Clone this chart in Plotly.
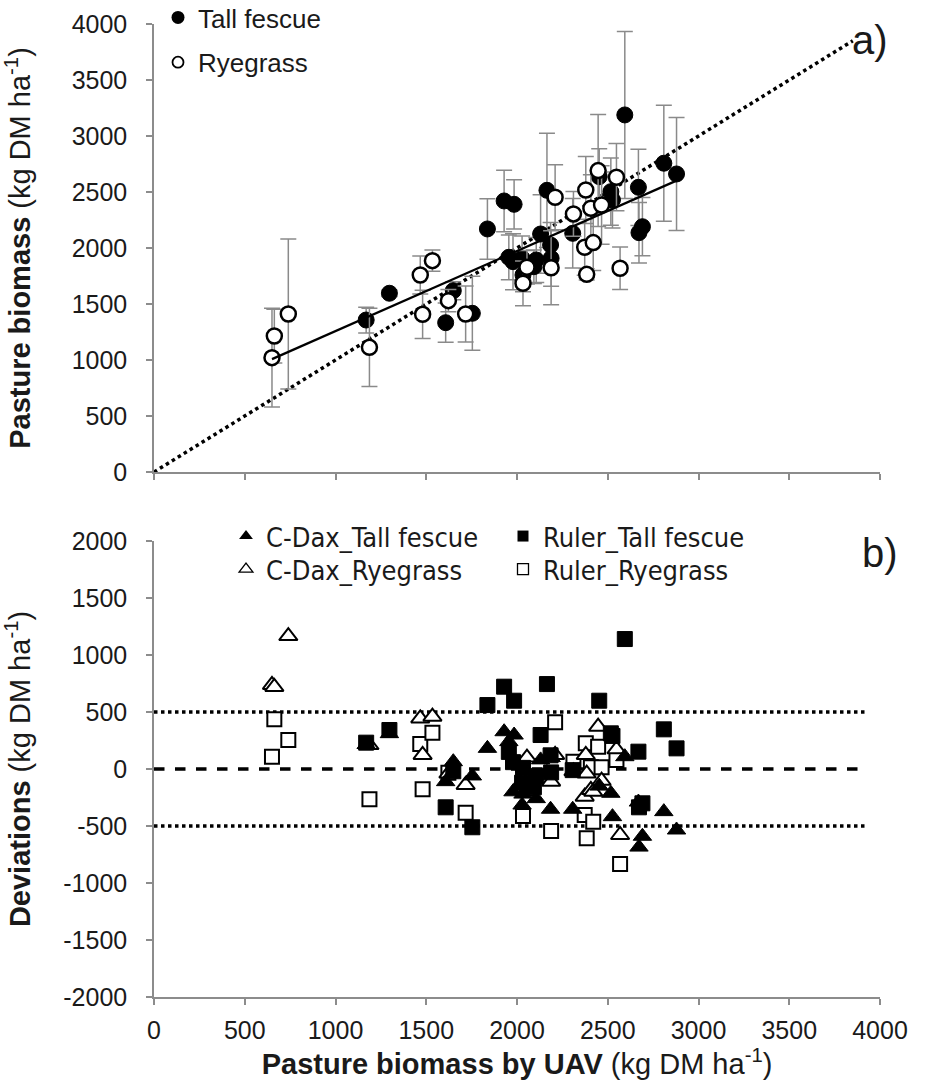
import plotly.graph_objects as go

# ---------------- data ----------------
# Tall fescue (top panel): UAV estimate, measured biomass, SD
tf_uav = [1169, 1297, 1607, 1649, 1754, 1837, 1929, 1955, 1978, 1984, 2028, 2033, 2093, 2106,
          2130, 2165, 2185, 2188, 2307, 2453, 2517, 2526, 2594, 2669, 2672, 2691, 2809, 2879]
tf_bio = [1357, 1596, 1333, 1619, 1417, 2170, 2420, 1917, 1878, 2390, 1908, 1759, 1833, 1893,
          2125, 2515, 2027, 1908, 2131, 2637, 2503, 2429, 3188, 2542, 2137, 2190, 2757, 2661]
tf_sd = [115, 30, 175, 80, 330, 270, 275, 200, 250, 220, 200, 150, 150, 200,
         350, 510, 200, 250, 310, 250, 300, 250, 745, 340, 270, 260, 518, 505]

# Ryegrass (top panel)
rg_uav = [650, 663, 740, 1187, 1467, 1480, 1534, 1622, 1717, 2033, 2055, 2188, 2210, 2311,
          2373, 2379, 2384, 2407, 2420, 2447, 2466, 2548, 2568]
rg_bio = [1021, 1214, 1411, 1113, 1759, 1408, 1887, 1530, 1411, 1685, 1828, 1824, 2453, 2304,
          2007, 2518, 1765, 2355, 2048, 2691, 2384, 2632, 1819]
rg_sd = [440, 240, 670, 350, 170, 215, 95, 100, 250, 200, 150, 330, 290, 200,
         250, 300, 50, 300, 250, 500, 350, 300, 190]

# Deviations (bottom panel)
cdax_tf_dev = [215, 310, -111, 64, -61, 181, 327, 240, -200, 298, -316, -220, -90, -260,
               80, -30, -353, 100, -353, -150, -213, -418, 108, -290, -685, -590, -374, -535]
ruler_tf_dev = [231, 342, -336, -20, -511, 561, 722, 150, 60, 599, -120, 10, -160, -60,
                298, 745, 120, -30, -10, 599, 313, 290, 1140, 152, -336, -301, 348, 181]
cdax_rg_dev = [737, 720, 1166, 210, 444, 123, 459, -40, -140, -100, 100, -111, 123, -20,
               -243, 123, -40, -184, -199, 371, -103, 173, -579]
ruler_rg_dev = [108, 436, 254, -266, 219, -178, 318, -32, -383, -412, -169, -544, 410, 64,
                -403, 225, -608, 15, -462, 196, 15, 79, -833]

# regression line (measured vs UAV) and reference lines
reg_slope = 0.715
reg_intercept = 543
one_to_one = [0, 3850]
limit_lines = [-500, 500]
x_ticks = [0, 500, 1000, 1500, 2000, 2500, 3000, 3500, 4000]
top_y_ticks = [0, 500, 1000, 1500, 2000, 2500, 3000, 3500, 4000]
dev_ticks = [-2000, -1500, -1000, -500, 0, 500, 1000, 1500, 2000]
dev_tick_text = ["-2000", "-1500", "-1000", "-500", "0", "500", "1000", "1500", "2000"]

# ---------------- figure ----------------
AX = "#8c8c8c"
FONT = "Liberation Sans, Arial, sans-serif"
NARROW = "Liberation Sans Narrow, DejaVu Sans Condensed, Liberation Sans, sans-serif"
ERRC = "#8a8a8a"
TXT = "#1a1a1a"

fig = go.Figure()

all_uav = tf_uav + rg_uav
reg_x = [min(all_uav), max(all_uav)]
reg_y = [reg_intercept + reg_slope * v for v in reg_x]

# 1:1 dotted line
fig.add_trace(go.Scatter(x=one_to_one, y=one_to_one, mode="lines",
                         line=dict(color="black", width=3.5, dash="dot"),
                         showlegend=False, xaxis="x", yaxis="y", hoverinfo="skip"))

fig.add_trace(go.Scatter(
    x=tf_uav, y=tf_bio, mode="markers", showlegend=False, xaxis="x", yaxis="y",
    marker=dict(symbol="circle", size=16, color="black", line=dict(color="black", width=1)),
    error_y=dict(type="data", array=tf_sd, visible=True, color=ERRC, thickness=1.5, width=8)))
fig.add_trace(go.Scatter(
    x=rg_uav, y=rg_bio, mode="markers", showlegend=False, xaxis="x", yaxis="y",
    marker=dict(symbol="circle", size=15, color="white", line=dict(color="black", width=2.5)),
    error_y=dict(type="data", array=rg_sd, visible=True, color=ERRC, thickness=1.5, width=8)))

# regression line (on top)
fig.add_trace(go.Scatter(x=reg_x, y=reg_y, mode="lines",
                         line=dict(color="black", width=2.2),
                         showlegend=False, xaxis="x", yaxis="y", hoverinfo="skip"))

# legend dummies (top)
fig.add_trace(go.Scatter(x=[None], y=[None], mode="markers", name="Tall fescue",
                         marker=dict(symbol="circle", size=13, color="black"),
                         legend="legend", legendgroup="g1", xaxis="x", yaxis="y"))
fig.add_trace(go.Scatter(x=[None], y=[None], mode="markers", name="Ryegrass",
                         marker=dict(symbol="circle", size=11, color="white",
                                     line=dict(color="black", width=1.8)),
                         legend="legend", legendgroup="g2", xaxis="x", yaxis="y"))

# bottom panel reference lines
for lv in limit_lines:
    fig.add_trace(go.Scatter(x=[0, 3930], y=[lv, lv], mode="lines",
                             line=dict(color="black", width=3.5, dash="dot"),
                             showlegend=False, xaxis="x2", yaxis="y2", hoverinfo="skip"))
fig.add_trace(go.Scatter(x=[0, 3930], y=[0, 0], mode="lines",
                         line=dict(color="black", width=3.5, dash="dash"),
                         showlegend=False, xaxis="x2", yaxis="y2", hoverinfo="skip"))

fig.add_trace(go.Scatter(x=rg_uav, y=ruler_rg_dev, mode="markers", showlegend=False,
                         xaxis="x2", yaxis="y2",
                         marker=dict(symbol="square", size=14, color="white",
                                     line=dict(color="black", width=2))))
fig.add_trace(go.Scatter(x=rg_uav, y=cdax_rg_dev, mode="markers", showlegend=False,
                         xaxis="x2", yaxis="y2",
                         marker=dict(symbol="triangle-up", size=16, color="white",
                                     line=dict(color="black", width=2))))
fig.add_trace(go.Scatter(x=tf_uav, y=ruler_tf_dev, mode="markers", showlegend=False,
                         xaxis="x2", yaxis="y2",
                         marker=dict(symbol="square", size=15, color="black",
                                     line=dict(color="black", width=1))))
fig.add_trace(go.Scatter(x=tf_uav, y=cdax_tf_dev, mode="markers", showlegend=False,
                         xaxis="x2", yaxis="y2",
                         marker=dict(symbol="triangle-up", size=16, color="black",
                                     line=dict(color="black", width=1))))

# legend dummies (bottom)
fig.add_trace(go.Scatter(x=[None], y=[None], mode="markers", name="C-Dax_Tall fescue",
                         marker=dict(symbol="triangle-up", size=12, color="black"),
                         legend="legend2", xaxis="x2", yaxis="y2"))
fig.add_trace(go.Scatter(x=[None], y=[None], mode="markers", name="Ruler_Tall fescue",
                         marker=dict(symbol="square", size=11, color="black"),
                         legend="legend2", xaxis="x2", yaxis="y2"))
fig.add_trace(go.Scatter(x=[None], y=[None], mode="markers", name="C-Dax_Ryegrass",
                         marker=dict(symbol="triangle-up", size=12, color="white",
                                     line=dict(color="black", width=1.3)),
                         legend="legend3", xaxis="x2", yaxis="y2"))
fig.add_trace(go.Scatter(x=[None], y=[None], mode="markers", name="Ruler_Ryegrass",
                         marker=dict(symbol="square", size=11, color="white",
                                     line=dict(color="black", width=1.3)),
                         legend="legend3", xaxis="x2", yaxis="y2"))

W, H = 930, 1082
ML, MR, MT, MB = 154, 50, 0, 85
plot_h = H - MT - MB


def py2paper(py):
    return (H - MB - py) / plot_h


def px2paper(px):
    return (px - ML) / (W - ML - MR)


axis_common = dict(showgrid=False, zeroline=False, showline=True, linecolor=AX, linewidth=1.5,
                   ticks="outside", tickcolor=AX, ticklen=6, tickwidth=1.5,
                   tickfont=dict(family=FONT, size=25, color=TXT))

fig.update_layout(
    width=W, height=H,
    margin=dict(l=ML, r=MR, t=MT, b=MB, autoexpand=False),
    paper_bgcolor="white", plot_bgcolor="white",
    font=dict(family=FONT, color=TXT),
    xaxis=dict(axis_common, range=[0, 4000], tickvals=x_ticks, showticklabels=False,
               anchor="y", domain=[0, 1]),
    yaxis=dict(axis_common, range=[0, 4000], tickvals=top_y_ticks, anchor="x",
               ticklabelstandoff=14,
               domain=[py2paper(472), py2paper(24)],
               title=dict(text="<b>Pasture biomass</b> (kg DM ha<sup>-1</sup>)",
                          font=dict(family=FONT, size=29), standoff=32)),
    xaxis2=dict(axis_common, range=[0, 4000], tickvals=x_ticks, anchor="y2", domain=[0, 1],
                ticklabelstandoff=4,
                title=dict(text="<b>Pasture biomass by UAV</b> (kg DM ha<sup>-1</sup>)",
                           font=dict(family=FONT, size=29), standoff=8)),
    yaxis2=dict(axis_common, range=[-2000, 2000],
                tickvals=dev_ticks, ticktext=dev_tick_text, ticklabelstandoff=14,
                anchor="x2", domain=[0, py2paper(541)],
                title=dict(text="<b>Deviations</b> (kg DM ha<sup>-1</sup>)",
                           font=dict(family=FONT, size=29), standoff=25)),
    legend=dict(x=px2paper(158), y=py2paper(-6), xanchor="left", yanchor="top",
                font=dict(family=FONT, size=26), bgcolor="rgba(0,0,0,0)",
                tracegroupgap=8, itemwidth=30),
    legend2=dict(x=px2paper(226), y=py2paper(512), xanchor="left", yanchor="top",
                 orientation="h", entrywidth=232, entrywidthmode="pixels",
                 font=dict(family=NARROW, size=27), bgcolor="rgba(0,0,0,0)", itemwidth=30),
    legend3=dict(x=px2paper(226), y=py2paper(545), xanchor="left", yanchor="top",
                 orientation="h", entrywidth=232, entrywidthmode="pixels",
                 font=dict(family=NARROW, size=27), bgcolor="rgba(0,0,0,0)", itemwidth=30),
    annotations=[
        dict(text="a)", x=px2paper(870), y=py2paper(40), xref="paper", yref="paper",
             xanchor="center", yanchor="middle",
             showarrow=False, font=dict(family=FONT, size=40, color=TXT)),
        dict(text="b)", x=px2paper(880), y=py2paper(553), xref="paper", yref="paper",
             xanchor="center", yanchor="middle",
             showarrow=False, font=dict(family=FONT, size=40, color=TXT)),
    ],
)

fig.write_html("out.html")
